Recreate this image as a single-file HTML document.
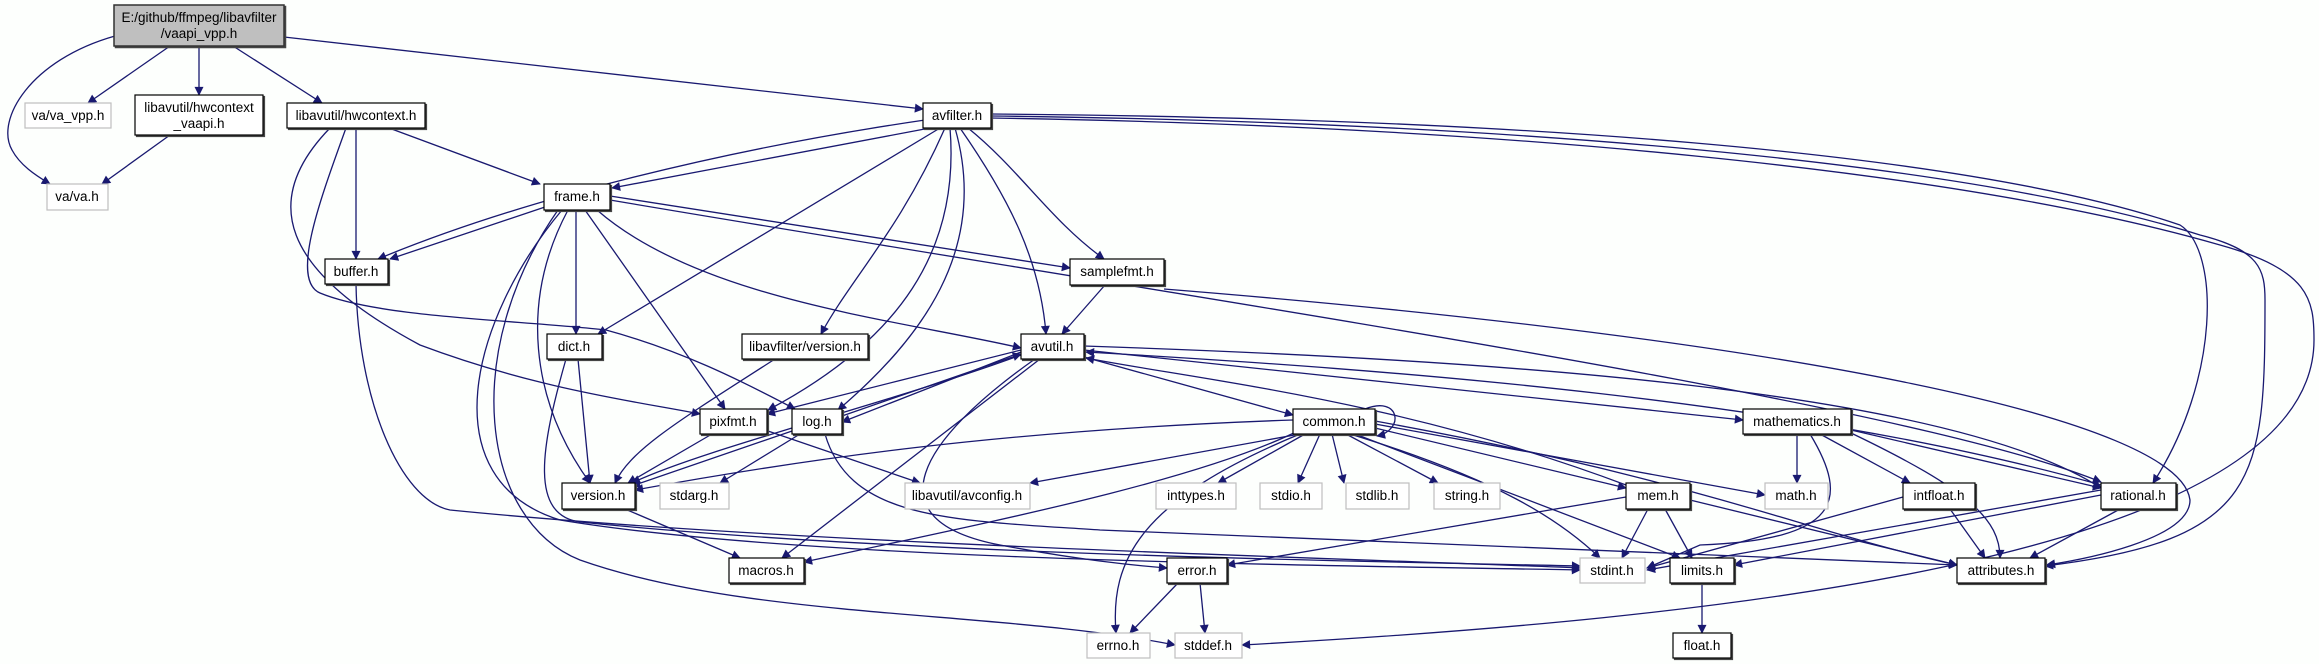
<!DOCTYPE html>
<html><head><meta charset="utf-8"><style>
html,body{margin:0;padding:0;background:#fdfffd;}
svg{display:block;}
text{font-family:"Liberation Sans",Arial,sans-serif;font-size:13.5px;fill:#000;text-anchor:middle;}
.e{fill:none;stroke:#191970;stroke-width:1.3;marker-end:url(#a);}
.n{fill:#fff;stroke:#000;stroke-width:1.2;filter:url(#sh);}
.g{fill:#fff;stroke:#bfbfbf;stroke-width:1.2;}
</style></head><body>
<svg width="2319" height="664" viewBox="0 0 2319 664" xmlns="http://www.w3.org/2000/svg">
<defs><marker id="a" viewBox="0 0 10 10" refX="9" refY="5" markerWidth="11" markerHeight="9" markerUnits="userSpaceOnUse" orient="auto"><path d="M0,0 L10,5 L0,10 z" fill="#191970"/></marker>
<filter id="sh" x="-5%" y="-10%" width="115%" height="130%"><feOffset in="SourceAlpha" dx="1.5" dy="1.5" result="o"/><feFlood flood-color="#444"/><feComposite in2="o" operator="in"/><feMerge><feMergeNode/><feMergeNode in="SourceGraphic"/></feMerge></filter></defs>
<rect width="2319" height="664" fill="#fdfffd"/>
<g>
<path class="e" d="M115,36 C30,60 -5,120 12,150 C20,165 35,175 50,184"/>
<path class="e" d="M170,46 L88,103"/>
<path class="e" d="M199,46 L199,95"/>
<path class="e" d="M233,46 L322,103"/>
<path class="e" d="M284,37 L923,109"/>
<path class="e" d="M170,135 L102,184"/>
<path class="e" d="M389,128 L540,184"/>
<path class="e" d="M356,128 L356,259"/>
<path class="e" d="M330,128 C260,200 280,270 420,345 C540,390 640,402 700,414"/>
<path class="e" d="M346,128 C320,200 290,280 320,293 C380,318 520,320 606,330 C680,350 740,380 795,409"/>
<path class="e" d="M930,128 L612,188"/>
<path class="e" d="M925,120 C720,150 520,200 378,259"/>
<path class="e" d="M545,207 L390,259"/>
<path class="e" d="M940,128 L598,334"/>
<path class="e" d="M945,128 C900,230 850,280 821,334"/>
<path class="e" d="M950,128 C960,250 900,340 768,410"/>
<path class="e" d="M955,128 C990,250 920,340 838,410"/>
<path class="e" d="M960,128 C1010,200 1040,260 1046,334"/>
<path class="e" d="M968,128 C1020,170 1050,220 1104,259"/>
<path class="e" d="M991,114 C1500,118 1960,150 2180,225 C2220,250 2220,380 2153,483"/>
<path class="e" d="M991,116 C1500,122 1960,160 2200,235 C2260,250 2265,270 2265,300 C2265,480 2260,540 2045,566"/>
<path class="e" d="M991,118 C1500,126 1960,170 2220,245 C2310,270 2314,300 2314,340 C2314,560 1700,620 1242,645"/>
<path class="e" d="M610,196 L1070,268"/>
<path class="e" d="M610,200 C1200,300 1900,400 2101,482"/>
<path class="e" d="M597,210 C700,300 900,320 1021,348"/>
<path class="e" d="M576,210 L576,334"/>
<path class="e" d="M585,210 L725,409"/>
<path class="e" d="M568,210 C520,300 530,400 590,483"/>
<path class="e" d="M562,210 C470,320 430,480 560,520 C800,560 1300,565 1580,570"/>
<path class="e" d="M558,210 C460,350 480,520 580,560 C750,620 1000,610 1175,645"/>
<path class="e" d="M356,284 C358,400 400,500 450,510 C800,545 1400,560 1580,568"/>
<path class="e" d="M578,359 L590,483"/>
<path class="e" d="M566,359 C540,450 530,515 580,522 C900,555 1400,562 1580,566"/>
<path class="e" d="M775,359 C680,420 630,450 615,483"/>
<path class="e" d="M1084,357 L1293,415"/>
<path class="e" d="M1084,350 L1743,420"/>
<path class="e" d="M1084,346 C1500,360 1950,390 2101,488"/>
<path class="e" d="M1021,355 C900,400 700,450 632,483"/>
<path class="e" d="M1021,352 L842,422"/>
<path class="e" d="M1021,350 L767,414"/>
<path class="e" d="M1040,359 L782,558"/>
<path class="e" d="M1035,359 C920,440 870,520 1000,545 C1080,560 1130,565 1167,568"/>
<path class="e" d="M842,416 L1021,354"/>
<path class="e" d="M800,434 L720,483"/>
<path class="e" d="M795,430 L632,486"/>
<path class="e" d="M825,434 C850,520 950,520 1100,530 L1957,565"/>
<path class="e" d="M712,434 L628,483"/>
<path class="e" d="M765,430 L920,483"/>
<path class="e" d="M625,509 L740,558"/>
<path class="e" d="M1293,420 C1000,430 800,460 635,490"/>
<path class="e" d="M1300,434 L1030,483"/>
<path class="e" d="M1300,430 C1200,480 1000,520 804,562"/>
<path class="e" d="M1300,434 C1140,500 1110,560 1116,633"/>
<path class="e" d="M1305,434 L1218,483"/>
<path class="e" d="M1320,434 L1298,483"/>
<path class="e" d="M1332,434 L1344,483"/>
<path class="e" d="M1346,434 L1438,483"/>
<path class="e" d="M1350,434 C1500,480 1560,520 1600,558"/>
<path class="e" d="M1355,434 L1680,558"/>
<path class="e" d="M1375,428 L1626,488"/>
<path class="e" d="M1375,424 L1765,495"/>
<path class="e" d="M1375,421 C1700,480 1800,530 1957,565"/>
<path class="e" d="M1365,409 C1400,395 1405,430 1377,436"/>
<path class="e" d="M1626,485 C1400,400 1200,380 1086,358"/>
<path class="e" d="M1626,497 L1227,565"/>
<path class="e" d="M1648,509 L1622,558"/>
<path class="e" d="M1665,509 L1692,558"/>
<path class="e" d="M1690,500 L1957,565"/>
<path class="e" d="M1797,434 L1797,483"/>
<path class="e" d="M1820,434 L1910,483"/>
<path class="e" d="M1851,430 L2101,488"/>
<path class="e" d="M1851,433 C1970,490 2000,520 2000,558"/>
<path class="e" d="M1810,434 C1850,500 1840,540 1700,545 L1647,568"/>
<path class="e" d="M2101,485 C1800,400 1400,370 1086,352"/>
<path class="e" d="M1903,497 L1647,568"/>
<path class="e" d="M1950,509 L1985,558"/>
<path class="e" d="M2101,490 L1647,570"/>
<path class="e" d="M2101,495 L1734,565"/>
<path class="e" d="M2120,509 L2030,558"/>
<path class="e" d="M1105,285 L1062,334"/>
<path class="e" d="M1164,289 C1800,340 2180,420 2190,500 C2190,540 2080,560 2047,565"/>
<path class="e" d="M1178,583 L1130,633"/>
<path class="e" d="M1200,583 L1205,633"/>
<path class="e" d="M1702,583 L1702,633"/>
</g>
<g>
<rect x="114" y="5" width="170" height="41" fill="#bfbfbf" stroke="#333" stroke-width="1.5" filter="url(#sh)"/>
<text x="199" y="22">E:/github/ffmpeg/libavfilter</text><text x="199" y="38">/vaapi_vpp.h</text>

<rect class="g" x="25" y="103" width="86" height="25"/><text x="68" y="120">va/va_vpp.h</text>
<rect class="n" x="135" y="95" width="128" height="40"/><text x="199" y="112">libavutil/hwcontext</text><text x="199" y="128">_vaapi.h</text>
<rect class="n" x="287" y="103" width="138" height="25"/><text x="356" y="120">libavutil/hwcontext.h</text>
<rect class="n" x="923" y="103" width="68" height="25"/><text x="957" y="120">avfilter.h</text>
<rect class="g" x="47" y="184" width="61" height="26"/><text x="77" y="201">va/va.h</text>
<rect class="n" x="544" y="184" width="66" height="26"/><text x="577" y="201">frame.h</text>
<rect class="n" x="325" y="259" width="63" height="25"/><text x="356" y="276">buffer.h</text>
<rect class="n" x="1070" y="259" width="94" height="26"/><text x="1117" y="276">samplefmt.h</text>
<rect class="n" x="547" y="334" width="55" height="25"/><text x="574" y="351">dict.h</text>
<rect class="n" x="742" y="334" width="126" height="25"/><text x="805" y="351">libavfilter/version.h</text>
<rect class="n" x="1021" y="334" width="63" height="25"/><text x="1052" y="351">avutil.h</text>
<rect class="n" x="700" y="409" width="67" height="25"/><text x="733" y="426">pixfmt.h</text>
<rect class="n" x="792" y="409" width="50" height="25"/><text x="817" y="426">log.h</text>
<rect class="n" x="1293" y="409" width="82" height="25"/><text x="1334" y="426">common.h</text>
<rect class="n" x="1743" y="409" width="108" height="25"/><text x="1797" y="426">mathematics.h</text>
<rect class="n" x="562" y="483" width="73" height="26"/><text x="598" y="500">version.h</text>
<rect class="g" x="660" y="483" width="69" height="26"/><text x="694" y="500">stdarg.h</text>
<rect class="g" x="905" y="483" width="125" height="26"/><text x="967" y="500">libavutil/avconfig.h</text>
<rect class="g" x="1156" y="483" width="80" height="26"/><text x="1196" y="500">inttypes.h</text>
<rect class="g" x="1260" y="483" width="62" height="26"/><text x="1291" y="500">stdio.h</text>
<rect class="g" x="1346" y="483" width="63" height="26"/><text x="1377" y="500">stdlib.h</text>
<rect class="g" x="1434" y="483" width="66" height="26"/><text x="1467" y="500">string.h</text>
<rect class="n" x="1626" y="483" width="64" height="26"/><text x="1658" y="500">mem.h</text>
<rect class="g" x="1765" y="483" width="63" height="26"/><text x="1796" y="500">math.h</text>
<rect class="n" x="1903" y="483" width="72" height="26"/><text x="1939" y="500">intfloat.h</text>
<rect class="n" x="2101" y="483" width="75" height="26"/><text x="2138" y="500">rational.h</text>
<rect class="n" x="729" y="558" width="75" height="25"/><text x="766" y="575">macros.h</text>
<rect class="n" x="1167" y="558" width="60" height="25"/><text x="1197" y="575">error.h</text>
<rect class="g" x="1580" y="558" width="65" height="25"/><text x="1612" y="575">stdint.h</text>
<rect class="n" x="1670" y="558" width="64" height="25"/><text x="1702" y="575">limits.h</text>
<rect class="n" x="1957" y="558" width="88" height="25"/><text x="2001" y="575">attributes.h</text>
<rect class="g" x="1087" y="633" width="63" height="25"/><text x="1118" y="650">errno.h</text>
<rect class="g" x="1175" y="633" width="67" height="25"/><text x="1208" y="650">stddef.h</text>
<rect class="n" x="1673" y="633" width="58" height="25"/><text x="1702" y="650">float.h</text>
</g>
</svg>
</body></html>
